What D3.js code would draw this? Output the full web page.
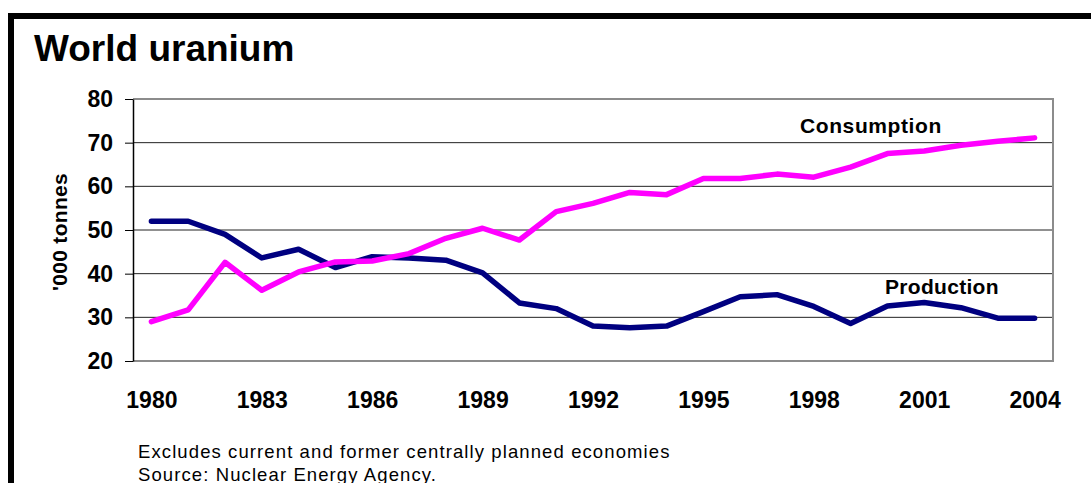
<!DOCTYPE html>
<html>
<head>
<meta charset="utf-8">
<script src="https://cdn.jsdelivr.net/npm/d3@7"></script>
<style>
  body { margin: 0; background: #fff; }
  svg { display: block; font-family: "Liberation Sans", Arial, sans-serif; }
</style>
</head>
<body>
<svg id="chart" width="1091" height="483"></svg>
<script>
// data ('000 tonnes)
var years = [1980, 1981, 1982, 1983, 1984, 1985, 1986, 1987, 1988, 1989, 1990, 1991, 1992,
	1993, 1994, 1995, 1996, 1997, 1998, 1999, 2000, 2001, 2002, 2003, 2004];
var production = [52, 52, 49, 43.6, 45.6, 41.4, 43.9, 43.6, 43.1, 40.2, 33.3, 32.0, 28.0,
	27.6, 28.0, 31.3, 34.7, 35.2, 32.5, 28.6, 32.6, 33.4, 32.2, 29.8, 29.8];
var consumption = [29.0, 31.7, 42.6, 36.2, 40.4, 42.7, 42.9, 44.6, 48.1, 50.4, 47.7, 54.2, 56.1,
	58.6, 58.1, 61.8, 61.8, 62.8, 62.1, 64.4, 67.5, 68.1, 69.4, 70.3, 71.1];
var xTickYears = [1980, 1983, 1986, 1989, 1992, 1995, 1998, 2001, 2004];
var yTicks = [20, 30, 40, 50, 60, 70, 80];

var svg = d3.select('#chart');

// outer frame (runs off the right and bottom edge)
svg.append('rect')
	.attr('x', 11).attr('y', 16)
	.attr('width', 1200).attr('height', 600)
	.attr('fill', 'none')
	.attr('stroke', '#000')
	.attr('stroke-width', 6);

svg.append('text')
	.attr('x', 34).attr('y', 61)
	.attr('font-size', 37)
	.attr('font-weight', 'bold')
	.text('World uranium');

// plot area box
var plotL = 133, plotT = 99, plotR = 1053, plotB = 361;
var w = plotR - plotL, h = plotB - plotT;

var g = svg.append('g').attr('transform', 'translate(' + plotL + ',' + plotT + ')');

var x = d3.scalePoint().domain(years).range([0, w]).padding(0.5);
var y = d3.scaleLinear().domain([20, 80]).range([h, 0]);

// gridlines
g.selectAll('.grid')
	.data(yTicks.filter(function(d){ return d > 20 && d < 80; }))
	.enter().append('line')
	.attr('x1', 0).attr('x2', w)
	.attr('y1', function(d){ return y(d); })
	.attr('y2', function(d){ return y(d); })
	.attr('stroke', '#222')
	.attr('stroke-width', 1);

// plot area border: top, right, bottom in grey
g.append('path')
	.attr('d', 'M0,' + y(80) + 'H' + w + 'V' + y(20) + 'H0')
	.attr('fill', 'none')
	.attr('stroke', '#8c8c8c')
	.attr('stroke-width', 2);

// y axis
var yAxis = g.append('g')
	.call(d3.axisLeft(y).tickValues(yTicks).tickSize(8).tickPadding(12).tickSizeOuter(0));
yAxis.select('.domain').attr('stroke', '#000').attr('stroke-width', 1.5);
yAxis.selectAll('line').attr('stroke', '#000');
yAxis.selectAll('text')
	.attr('font-size', 23)
	.attr('font-weight', 'bold')
	.attr('font-family', '"Liberation Sans", Arial, sans-serif')
	.attr('fill', '#000');

// x axis labels
var xAxis = g.append('g')
	.attr('transform', 'translate(0,' + h + ')')
	.call(d3.axisBottom(x).tickValues(xTickYears).tickSize(0).tickPadding(31));
xAxis.select('.domain').remove();
xAxis.selectAll('text')
	.attr('font-size', 23)
	.attr('font-weight', 'bold')
	.attr('font-family', '"Liberation Sans", Arial, sans-serif')
	.attr('fill', '#000');

svg.append('text')
	.attr('transform', 'translate(67,232) rotate(-90)')
	.attr('text-anchor', 'middle')
	.attr('font-size', 21)
	.attr('font-weight', 'bold')
	.attr('letter-spacing', 0.3)
	.text("'000 tonnes");

// series lines
var line = d3.line()
	.x(function(d, i){ return x(years[i]); })
	.y(function(d){ return y(d); });

[[production, '#000080'], [consumption, '#ff00ff']].forEach(function(s){
	g.append('path')
		.datum(s[0])
		.attr('d', line)
		.attr('fill', 'none')
		.attr('stroke', s[1])
		.attr('stroke-width', 5.5)
		.attr('stroke-linejoin', 'round')
		.attr('stroke-linecap', 'round');
});

svg.append('text')
	.attr('x', 800).attr('y', 133)
	.attr('font-size', 21)
	.attr('font-weight', 'bold')
	.attr('letter-spacing', 0.6)
	.text('Consumption');

svg.append('text')
	.attr('x', 885).attr('y', 294)
	.attr('font-size', 21)
	.attr('font-weight', 'bold')
	.attr('letter-spacing', 0.3)
	.text('Production');

// notes
svg.append('text')
	.attr('x', 138).attr('y', 458)
	.attr('font-size', 18.5)
	.attr('letter-spacing', 1.1)
	.text('Excludes current and former centrally planned economies');

svg.append('text')
	.attr('x', 138).attr('y', 481)
	.attr('font-size', 18.5)
	.attr('letter-spacing', 1.1)
	.text('Source: Nuclear Energy Agency.');
</script>
</body>
</html>
